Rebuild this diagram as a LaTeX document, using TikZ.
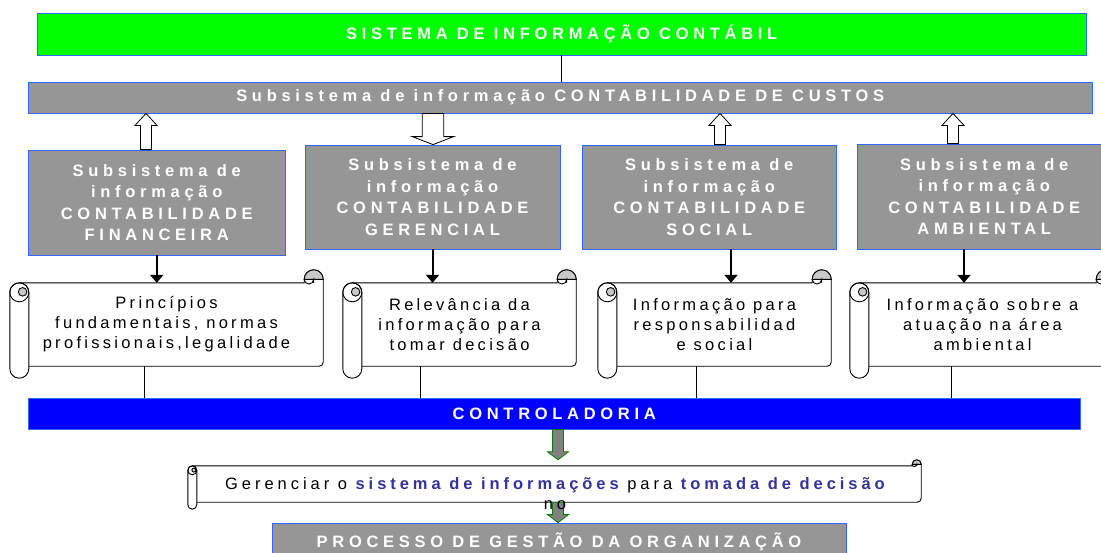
\documentclass[tikz,border=0pt]{standalone}
\usepackage{fontspec}
\setmainfont{Liberation Sans}
\newfontfamily\widefont[LetterSpace=28.5]{Liberation Sans}
\newfontfamily\scrollfont[LetterSpace=20]{Liberation Sans}
\usetikzlibrary{calc,arrows.meta}
\pgfdeclarelayer{background}
\pgfsetlayers{background,main}

\definecolor{sicgreen}{RGB}{0,255,0}
\definecolor{edgeblue}{RGB}{51,102,255}
\definecolor{subgray}{RGB}{150,150,150}
\definecolor{ctrlblue}{RGB}{0,0,255}
\definecolor{arrowgray}{RGB}{128,128,128}
\definecolor{arrowgreen}{RGB}{0,128,0}
\definecolor{infoblue}{RGB}{51,51,153}
\definecolor{curlgray}{RGB}{200,200,200}

\newcommand{\barfont}{\widefont\bfseries\fontsize{16.5}{21.5}\selectfont}
\newcommand{\notefont}{\scrollfont\fontsize{16.5}{20}\selectfont}

\tikzset{
  bar/.style={rectangle, draw=edgeblue, line width=0.8pt, inner sep=0pt, text=white, font=\barfont, align=center},
  greenbar/.style={bar, fill=sicgreen},
  graybar/.style={bar, fill=subgray},
  bluebar/.style={bar, fill=ctrlblue},
  subbox/.style={bar, fill=subgray, minimum width=255pt, minimum height=104pt},
  scrollbody/.style={rectangle, inner sep=0pt, align=center, font=\notefont},
  scrollline/.style={draw=black, line width=0.9pt},
  hollowarrow/.style={draw=black, fill=white, line width=0.8pt},
  greenarrow/.style={draw=arrowgreen, fill=arrowgray, line width=0.8pt},
  feedarrow/.style={line width=2pt, -{Triangle[length=8pt,width=13pt]}},
  link/.style={line width=0.8pt}
}

% block arrow from tail to tip (vertical), half shaft : half head : head length
\def\blockarrow[#1](#2)(#3)(#4:#5:#6){\draw[#1] let \p1=(#2), \p2=(#3), \n1={sign(\y1-\y2)} in
  (\x1-#4,\y1) -- (\x1-#4,{\y2+(\n1)*#6}) -- (\x1-#5,{\y2+(\n1)*#6}) -- (\x1,\y2)
  -- (\x1+#5,{\y2+(\n1)*#6}) -- (\x1+#4,{\y2+(\n1)*#6}) -- (\x1+#4,\y1) -- cycle;}

% scroll outline round a node: roll radius : roll drop : curl rise
\def\scrollframe(#1)(#2:#3:#4){%
  \begin{pgfonlayer}{background}
    \draw[scrollline, fill=white] let \p1=(#1.north west), \p2=(#1.south east) in
      (\x1+#2,\y1) -- (\x2-2*#2,\y1) -- (\x2-2*#2,\y1+#4-#2)
      arc[start angle=180, end angle=0, radius=#2] -- (\x2,\y2+4pt)
      arc[start angle=0, end angle=-90, radius=4pt] -- (\x1+2*#2,\y2);
    \draw[scrollline, fill=curlgray] let \p1=(#1.north west), \p2=(#1.south east) in
      (\x2-2*#2,\y1+#4-#2) arc[start angle=180, end angle=0, radius=#2] -- cycle;
    \draw[scrollline] let \p1=(#1.north west), \p2=(#1.south east) in
      (\x2-2*#2,\y1+#4-#2) arc[start angle=180, end angle=360, radius=0.5*#2] -- (\x2-#2,\y1);
    \draw[scrollline, fill=white] let \p1=(#1.north west), \p2=(#1.south east) in
      (\x1,\y1-#2) arc[start angle=180, end angle=0, radius=#2] -- (\x1+2*#2,\y2-#3+#2)
      arc[start angle=0, end angle=-180, radius=#2] -- cycle;
    \draw[scrollline] let \p1=(#1.north west) in (\x1+#2,\y1-#2) circle[radius=#2];
    \draw[scrollline, fill=curlgray] let \p1=(#1.north west) in
      (\x1+1.35*#2,\y1-0.95*#2) circle[radius=0.45*#2];
  \end{pgfonlayer}}

\begin{document}
\begin{tikzpicture}[x=1pt,y=-1pt]
  %%%%% START %%%%%
  \useasboundingbox (0,0) rectangle (1101,552);
  \clip (0,0) rectangle (1101,552);

  % top bars
  \node[greenbar, minimum width=1048.5pt, minimum height=42pt] (sic) at (561.75,34) {SISTEMA DE INFORMAÇÃO CONTÁBIL};
  \node[graybar, minimum width=1063.5pt, minimum height=31pt] (custos) at (560.25,97.5) {Subsistema de informação CONTABILIDADE DE CUSTOS};
  \draw[link] (sic.south) -- (sic.south |- custos.north);

  % subsystems
  \node[subbox, minimum width=256.5pt, minimum height=105pt] (fin) at (156.75,202.5) {Subsistema de\\informação\\CONTABILIDADE\\FINANCEIRA};
  \node[subbox] (ger) at (432.5,197) {Subsistema de\\informação\\CONTABILIDADE\\GERENCIAL};
  \node[subbox, minimum width=254.5pt] (soc) at (709.25,197) {Subsistema de\\informação\\CONTABILIDADE\\SOCIAL};
  \node[subbox, minimum width=253.5pt, minimum height=105pt] (amb) at (984.25,196.5) {Subsistema de\\informação\\CONTABILIDADE\\AMBIENTAL};

  \blockarrow[hollowarrow](fin.north -| 146,0)(custos.south -| 146,0)(5.5pt:11pt:12pt)
  \blockarrow[hollowarrow](custos.south -| 433,0)(ger.north -| 433,0)(10.75pt:20.75pt:8pt)
  \blockarrow[hollowarrow](soc.north -| 720,0)(custos.south -| 720,0)(5.5pt:11pt:12pt)
  \blockarrow[hollowarrow](amb.north -| 953,0)(custos.south -| 953,0)(5.5pt:11pt:12pt)

  % scrolls
  \node[scrollbody, minimum width=313pt, minimum height=83pt] (s1) at (166.5,324.5) {Princípios\\fundamentais, normas\\profissionais,legalidade};
  \node[scrollbody, minimum width=233pt, minimum height=83pt] (s2) at (459.5,324.5) {Relevância da\\informação para\\tomar decisão};
  \node[scrollbody, minimum width=233pt, minimum height=83pt] (s3) at (714.5,324.5) {Informação para\\responsabilidad\\e social};
  \node[scrollbody, minimum width=265pt, minimum height=83pt] (s4) at (982.5,324.5) {Informação sobre a\\atuação na área\\ambiental};
  \scrollframe(s1)(9.5pt:12pt:13pt)
  \scrollframe(s2)(9.5pt:12pt:13pt)
  \scrollframe(s3)(9.5pt:12pt:13pt)
  \scrollframe(s4)(9.5pt:12pt:13pt)

  \draw[feedarrow] (fin.south) -- (fin.south |- s1.north);
  \draw[feedarrow] (ger.south) -- (ger.south |- s2.north);
  \draw[feedarrow] (soc.south -| 731,0) -- (s3.north -| 731,0);
  \draw[feedarrow] (amb.south -| 964,0) -- (s4.north -| 964,0);

  % controladoria
  \node[bluebar, minimum width=1051.5pt, minimum height=31pt] (contr) at (554.25,413.5) {CONTROLADORIA};
  \draw[link] (s1.south -| 144,0) -- (contr.north -| 144,0);
  \draw[link] (s2.south -| 420,0) -- (contr.north -| 420,0);
  \draw[link] (s3.south -| 696,0) -- (contr.north -| 696,0);
  \draw[link] (s4.south -| 951,0) -- (contr.north -| 951,0);

  % bottom
  \node[scrollbody, minimum width=733pt, minimum height=36pt] (sc) at (554.5,484) {};
  \scrollframe(sc)(4.5pt:7pt:6pt)
  \node[graybar, minimum width=574pt, minimum height=37pt] (proc) at (559,541.5) {PROCESSO DE GESTÃO DA ORGANIZAÇÃO};
  \coordinate (gtip) at ($(sc.north -| 558,0)+(0,-6)$);
  \blockarrow[greenarrow](contr.south -| 558,0)(gtip)(5.5pt:10.5pt:8pt)
  \blockarrow[greenarrow](sc.south -| 558,0)(proc.north -| 558,0)(5.5pt:10.5pt:8pt)
  \node[scrollbody, font=\notefont\addfontfeature{LetterSpace=24}] (sctext) at (555,494) {Gerenciar o \textcolor{infoblue}{\bfseries sistema de informações} para \textcolor{infoblue}{\bfseries tomada de decisão}\\no};
  %%%%% END %%%%%
\end{tikzpicture}
\end{document}
